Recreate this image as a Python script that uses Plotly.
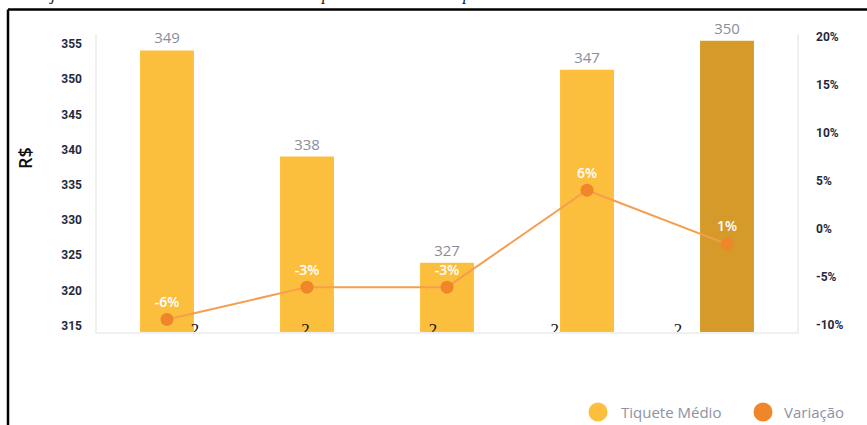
import plotly.graph_objects as go

# ---- data -------------------------------------------------------------
periods = ["P1", "P2", "P3", "P4", "P5"]
ticket_medio = [349, 338, 327, 347, 350]        # R$
variacao = [-6, -3, -3, 6, 1]                   # %

left_ticks = [315, 320, 325, 330, 335, 340, 345, 350, 355]
right_ticks = [-10, -5, 0, 5, 10, 15, 20]
right_tick_labels = ["-10%", "-5%", "0%", "5%", "10%", "15%", "20%"]

series_names = ["Tiquete Médio", "Variação"]

# clipped period labels sitting under the baseline
period_marks = ["2", "2", "2", "2", "2"]
period_mark_pos = [0.20, 0.99, 1.90, 2.77, 3.65]

caption_glyphs = ["j", "p", "p"]

# ---- layout geometry (pixels) -----------------------------------------
W, H = 867, 425
L, R = 97, 850          # paper area, left/right
T, B = 34, 332          # plot top/bottom
PLOT_RIGHT = 797


def px_x(p):
    return (p - L) / (R - L)


def px_y(p):
    return (B - p) / (B - T)


YELLOW = "#FCBF3D"
DARK_GOLD = "#D69A2A"
ORANGE = "#F0862A"
LINE_ORANGE = "#F59E4F"
AXIS_GREY = "#EEF0F4"
TICK_COLOR = "#1F2A3C"
LEGEND_TEXT = "#8E92A3"

bar_colors = [YELLOW] * (len(periods) - 1) + [DARK_GOLD]
idx = list(range(len(periods)))

fig = go.Figure()

# bars live on the base subplot (x, y)
fig.add_trace(go.Bar(
    x=idx, y=ticket_medio, name=series_names[0],
    marker=dict(color=bar_colors, line=dict(width=0)),
    width=0.385,
    text=[str(v) for v in ticket_medio],
    textposition="outside", cliponaxis=False, constraintext="none",
    textfont=dict(family="Open Sans", size=15, color="#8A8D9C"),
    showlegend=False, hoverinfo="skip",
))

fig.add_trace(go.Scatter(
    x=idx, y=variacao, yaxis="y4", name=series_names[1],
    mode="lines+markers+text",
    line=dict(color=LINE_ORANGE, width=2),
    marker=dict(color=ORANGE, size=13),
    text=[f"{v}%" for v in variacao],
    textposition="top center", cliponaxis=False,
    textfont=dict(family="Open Sans", size=14, color="white", weight=600),
    showlegend=False, hoverinfo="skip",
))

# serif period labels, cut by the plot area's lower edge
fig.add_trace(go.Scatter(
    x=period_mark_pos, y=[px_y(331)] * len(period_marks),
    xaxis="x2", yaxis="y5",
    mode="text", text=period_marks, textposition="middle center",
    textfont=dict(family="Liberation Serif", size=17, color="#111111"),
    cliponaxis=True, showlegend=False, hoverinfo="skip",
))

# empty traces so the two tick scales get their own subplots drawn
for ax in ("y2", "y3"):
    fig.add_trace(go.Scatter(x=[None], y=[None], yaxis=ax, mode="markers",
                             showlegend=False, hoverinfo="skip"))

tick_font = dict(family="Roboto", size=12, color=TICK_COLOR, weight="bold")

fig.update_layout(
    width=W, height=H,
    margin=dict(l=L, r=W - R, t=T, b=H - B, pad=0),
    paper_bgcolor="white", plot_bgcolor="white",
    showlegend=False,
    xaxis=dict(
        domain=[0, px_x(PLOT_RIGHT)], range=[-0.5, 4.5],
        showgrid=False, zeroline=False, showticklabels=False,
        showline=True, linecolor=AXIS_GREY, linewidth=2, ticks="",
    ),
    xaxis2=dict(overlaying="x", range=[-0.5, 4.5], visible=False),
    # value scale of the bars; only its frame lines are shown
    yaxis=dict(
        range=[319.811, 350.708],
        showgrid=False, zeroline=False, showticklabels=False, ticks="",
        showline=True, linecolor=AXIS_GREY, linewidth=2, mirror=True,
    ),
    # R$ tick scale
    yaxis3=dict(
        overlaying="y", side="left", anchor="x",
        range=[314.091, 356.42], tickvals=left_ticks,
        showgrid=False, zeroline=False, showline=False,
        ticks="", tickfont=tick_font, ticklabelstandoff=14,
    ),
    # percentage tick scale
    yaxis2=dict(
        overlaying="y", side="right", anchor="x",
        range=[-10.728, 20.281],
        tickvals=right_ticks, ticktext=right_tick_labels,
        showgrid=False, zeroline=False, showline=False, ticks="",
        tickfont=tick_font, ticklabelstandoff=18,
    ),
    yaxis4=dict(overlaying="y", range=[-7.165, 20.504], visible=False),
    yaxis5=dict(overlaying="y", range=[0, 1], visible=False),
)

# axis title
fig.add_annotation(
    text="R$", xref="paper", yref="paper",
    x=px_x(25), y=px_y(158), textangle=-90,
    showarrow=False, xanchor="center", yanchor="middle",
    font=dict(family="Open Sans", size=18, color="#111111", weight=600),
)

# legend: circle swatch + label per series
legend_items = [(series_names[0], YELLOW, 598, 619), (series_names[1], ORANGE, 763, 782)]
LEG_Y, LEG_R = 412, 9.5
for name, color, cx, tx in legend_items:
    fig.add_shape(type="circle", xref="paper", yref="paper",
                  x0=px_x(cx - LEG_R), x1=px_x(cx + LEG_R),
                  y0=px_y(LEG_Y + LEG_R), y1=px_y(LEG_Y - LEG_R),
                  fillcolor=color, line=dict(width=0))
    fig.add_annotation(
        text=name, xref="paper", yref="paper",
        x=px_x(tx), y=px_y(LEG_Y), xanchor="left", yanchor="middle",
        showarrow=False,
        font=dict(family="Open Sans", size=15, color=LEGEND_TEXT),
    )

# descenders of the caption line above the frame
for glyph, gx in zip(caption_glyphs, [52, 326, 467]):
    fig.add_annotation(
        text=glyph, xref="paper", yref="paper",
        x=px_x(gx), y=px_y(6), xanchor="center", yanchor="bottom",
        showarrow=False,
        font=dict(family="Liberation Serif", size=17, color="#111111", style="italic"),
    )

# page frame: left and top rules
fig.add_shape(type="line", xref="paper", yref="paper",
              x0=px_x(8), x1=px_x(8), y0=px_y(9.5), y1=px_y(H + 5),
              line=dict(color="black", width=2.5))
fig.add_shape(type="line", xref="paper", yref="paper",
              x0=px_x(8), x1=px_x(W + 5), y0=px_y(9.5), y1=px_y(9.5),
              line=dict(color="black", width=2.5))

fig.write_html("out.html")
